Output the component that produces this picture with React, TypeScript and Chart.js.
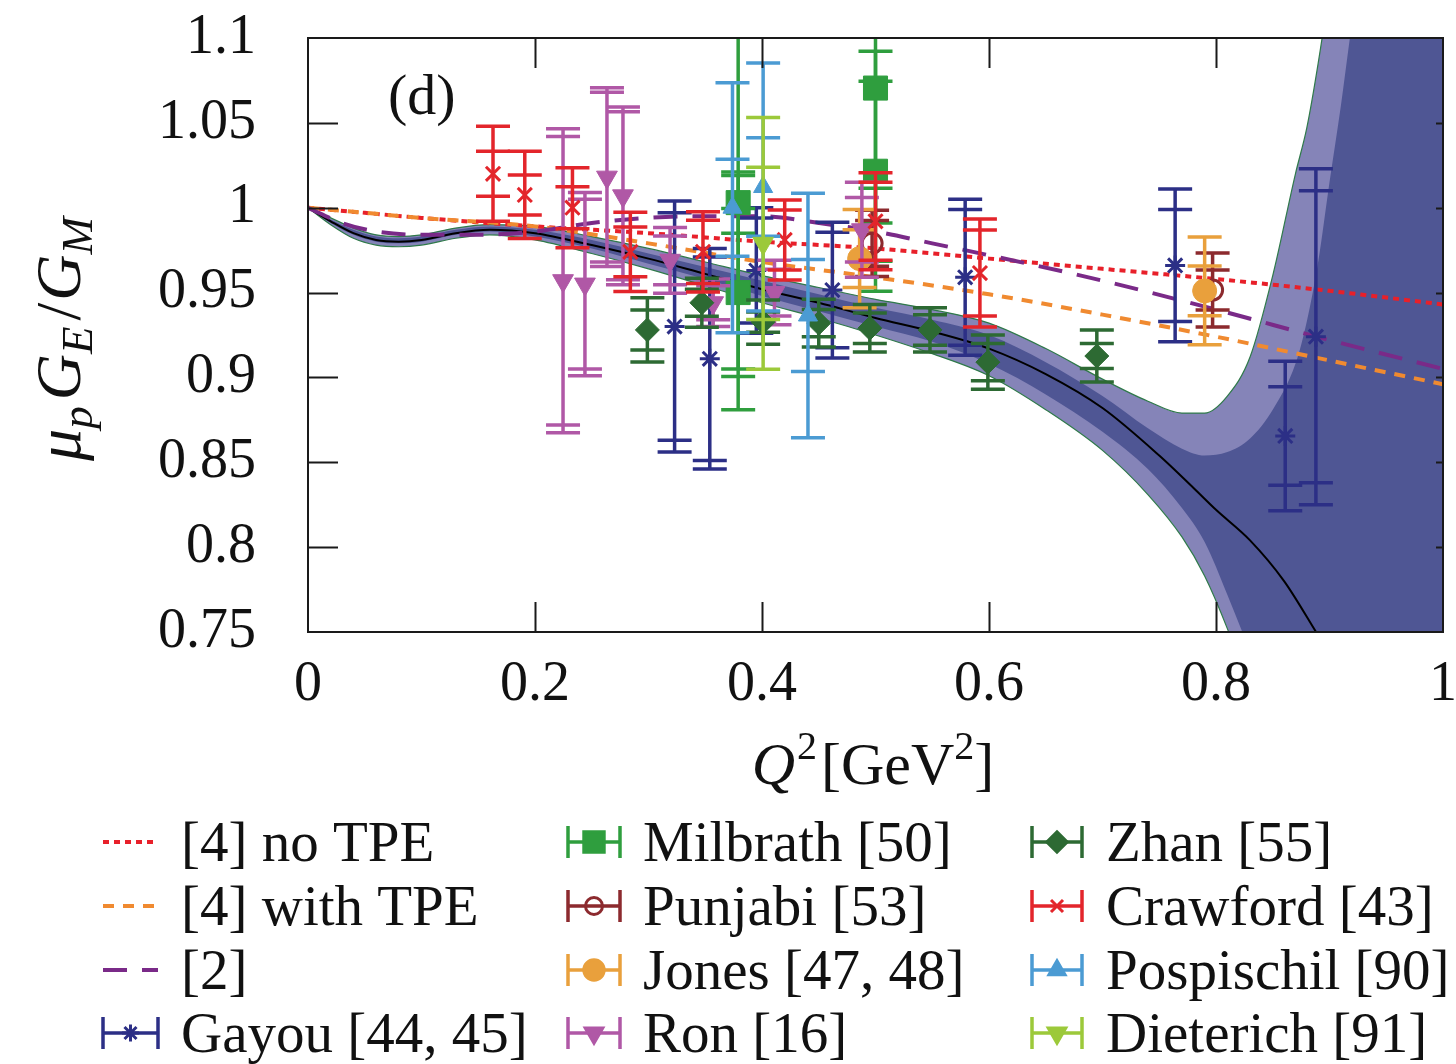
import { useEffect, useRef } from "react";
import { Chart, registerables } from "chart.js";

Chart.register(...registerables);

const SERIF = '"Liberation Serif", "Times New Roman", serif';

// ---- model curves -------------------------------------------------------
const tpeQ2 = [0, 0.05, 0.1, 0.2, 0.3, 0.4, 0.5, 0.6, 0.7, 0.8, 0.9, 1.0];
const noTpe = [1.0, 0.997, 0.994, 0.989, 0.985, 0.98, 0.976, 0.97, 0.964, 0.958, 0.951, 0.943];
const withTpe = [1.0, 0.997, 0.994, 0.989, 0.979, 0.968, 0.959, 0.949, 0.937, 0.924, 0.91, 0.896];

const ref2Q2 = [0, 0.03, 0.06, 0.1, 0.15, 0.2, 0.25, 0.3, 0.35, 0.4, 0.45, 0.5, 0.55, 0.6, 0.7, 0.8, 0.9, 1.0];
const ref2 = [1.0, 0.991, 0.986, 0.984, 0.984, 0.986, 0.991, 0.994, 0.995, 0.995, 0.991, 0.986, 0.979, 0.972, 0.957, 0.94, 0.922, 0.905];

const fitQ2 = [0, 0.02, 0.04, 0.06, 0.08, 0.1, 0.13, 0.16, 0.2, 0.25, 0.3, 0.35, 0.4, 0.45, 0.5, 0.55, 0.6, 0.65, 0.7, 0.75, 0.78, 0.8, 0.83, 0.86, 0.89];
const fitCentral = [1.0, 0.992, 0.985, 0.981, 0.98, 0.981, 0.985, 0.987, 0.985, 0.978, 0.97, 0.961, 0.952, 0.944, 0.935, 0.927, 0.917, 0.902, 0.882, 0.854, 0.835, 0.822, 0.804, 0.78, 0.748];

// uncertainty bands of the fit
const bandQ2 = [0, 0.02, 0.04, 0.06, 0.08, 0.1, 0.13, 0.16, 0.2, 0.25, 0.3, 0.35, 0.4, 0.45, 0.5, 0.55, 0.6, 0.65, 0.7, 0.74, 0.77, 0.79, 0.81, 0.83, 0.85, 0.87, 0.88, 0.89, 0.9, 0.91, 0.92, 0.94, 0.97, 1.0];
const outerHi = [1.0, 0.994, 0.988, 0.984, 0.983, 0.984, 0.988, 0.99, 0.989, 0.983, 0.976, 0.968, 0.96, 0.953, 0.946, 0.94, 0.932, 0.917, 0.899, 0.886, 0.879, 0.879, 0.889, 0.912, 0.96, 1.02, 1.047, 1.085, 1.13, 1.18, 1.23, 1.33, 1.49, 1.65];
const outerLo = [1.0, 0.99, 0.982, 0.978, 0.977, 0.978, 0.982, 0.984, 0.981, 0.973, 0.964, 0.954, 0.944, 0.935, 0.925, 0.914, 0.901, 0.881, 0.857, 0.831, 0.806, 0.783, 0.752, 0.715, 0.675, 0.635, 0.615, 0.595, 0.575, 0.555, 0.535, 0.495, 0.435, 0.375];
const innerHi = [1.0, 0.993, 0.987, 0.983, 0.982, 0.983, 0.987, 0.989, 0.987, 0.981, 0.973, 0.965, 0.957, 0.949, 0.941, 0.934, 0.925, 0.909, 0.889, 0.87, 0.858, 0.854, 0.856, 0.864, 0.881, 0.908, 0.933, 0.968, 1.015, 1.06, 1.11, 1.2, 1.36, 1.5];
const innerLo = [1.0, 0.991, 0.984, 0.98, 0.979, 0.98, 0.984, 0.986, 0.983, 0.976, 0.967, 0.958, 0.948, 0.939, 0.93, 0.921, 0.908, 0.89, 0.868, 0.846, 0.823, 0.803, 0.772, 0.738, 0.7, 0.66, 0.64, 0.62, 0.6, 0.58, 0.56, 0.52, 0.46, 0.39];

// ---- measurements (Q2, ratio, statistical and total errors) ----------------
const gayouQ2 = [0.323, 0.354, 0.395, 0.462, 0.579, 0.764, 0.861, 0.888];
const gayouR = [0.93, 0.911, 0.963, 0.9515, 0.959, 0.966, 0.8655, 0.924];
const gayouStat = [0.067, 0.06, 0.031, 0.034, 0.04, 0.033, 0.029, 0.086];
const gayouTot = [0.074, 0.065, 0.037, 0.04, 0.046, 0.045, 0.044, 0.099];

const milbrathQ2 = [0.379, 0.379, 0.5, 0.5];
const milbrathR = [1.003, 0.95, 1.0705, 1.0215];
const milbrathStat = [0.018, 0.0495, 0.059, 0.053];
const milbrathTot = [0.098, 0.069, 0.0795, 0.0707];

const punjabiQ2 = [0.497, 0.797];
const punjabiR = [0.979, 0.9515];
const punjabiStat = [0.0135, 0.0118];
const punjabiTot = [0.0195, 0.0218];

const jonesQ2 = [0.486, 0.79];
const jonesR = [0.97, 0.951];
const jonesStat = [0.017, 0.0147];
const jonesTot = [0.029, 0.0318];

const ronQ2 = [0.2247, 0.244, 0.2634, 0.2775, 0.319, 0.357, 0.411, 0.488];
const ronR = [0.957, 0.955, 1.018, 1.007, 0.969, 0.944, 0.95, 0.987];
const ronStat = [0.085, 0.05, 0.05, 0.0495, 0.0144, 0.01, 0.0138, 0.019];
const ronTot = [0.0896, 0.054, 0.0527, 0.0524, 0.0194, 0.014, 0.019, 0.028];

const zhanQ2 = [0.299, 0.347, 0.401, 0.45, 0.495, 0.548, 0.599, 0.695];
const zhanR = [0.928, 0.944, 0.9326, 0.932, 0.929, 0.928, 0.909, 0.9126];
const zhanStat = [0.0118, 0.008, 0.006, 0.008, 0.009, 0.009, 0.011, 0.0074];
const zhanTot = [0.0189, 0.0144, 0.013, 0.014, 0.014, 0.013, 0.016, 0.0153];

const crawfordQ2 = [0.163, 0.191, 0.233, 0.284, 0.348, 0.42, 0.5, 0.592];
const crawfordR = [1.02, 1.0075, 1.0, 0.974, 0.974, 0.981, 0.992, 0.9615];
const crawfordStat = [0.0133, 0.0118, 0.0124, 0.0147, 0.0186, 0.0177, 0.023, 0.0253];
const crawfordTot = [0.028, 0.0257, 0.0236, 0.0233, 0.0236, 0.0236, 0.0286, 0.0318];

const pospischilQ2 = [0.374, 0.401, 0.4405];
const pospischilR = [1.0, 1.0122, 0.9365];
const pospischilStat = [0.0286, 0.029, 0.033];
const pospischilTot = [0.0737, 0.073, 0.072];

const dieterichQ2 = [0.401];
const dieterichR = [0.979];
const dieterichStat = [0.0448];
const dieterichTot = [0.0742];

// ---- axis ticks -----------------------------------------------------------
const xTickValues = [0, 0.2, 0.4, 0.6, 0.8, 1];
const yTickValues = [0.75, 0.8, 0.85, 0.9, 0.95, 1, 1.05, 1.1];

const fmtTick = (v: number) => String(Number(Number(v).toFixed(2)));
const pts = (xs: number[], ys: number[]) => xs.map((x, i) => ({ x, y: ys[i] }));

const curveDefs = [
  { label: "[4] no TPE", q2: tpeQ2, r: noTpe, color: "#e8202a", dash: [6, 5], width: 4 },
  { label: "[4] with TPE", q2: tpeQ2, r: withTpe, color: "#f08a30", dash: [11, 9], width: 4 },
  { label: "[2]", q2: ref2Q2, r: ref2, color: "#7a2a88", dash: [24, 15], width: 4 },
];

const seriesDefs = [
  { label: "Gayou [44, 45]", q2: gayouQ2, r: gayouR, stat: gayouStat, tot: gayouTot, color: "#2c2f86", style: "star", radius: 10, rot: 0, filled: true },
  { label: "Milbrath [50]", q2: milbrathQ2, r: milbrathR, stat: milbrathStat, tot: milbrathTot, color: "#2f9e3e", style: "rect", radius: 17, rot: 0, filled: true },
  { label: "Punjabi [53]", q2: punjabiQ2, r: punjabiR, stat: punjabiStat, tot: punjabiTot, color: "#8c2a2e", style: "circle", radius: 10, rot: 0, filled: false },
  { label: "Jones [47, 48]", q2: jonesQ2, r: jonesR, stat: jonesStat, tot: jonesTot, color: "#e9a03c", style: "circle", radius: 12, rot: 0, filled: true },
  { label: "Ron [16]", q2: ronQ2, r: ronR, stat: ronStat, tot: ronTot, color: "#b058a6", style: "triangle", radius: 12, rot: 180, filled: true },
  { label: "Zhan [55]", q2: zhanQ2, r: zhanR, stat: zhanStat, tot: zhanTot, color: "#2d6a33", style: "rectRot", radius: 12, rot: 0, filled: true },
  { label: "Crawford [43]", q2: crawfordQ2, r: crawfordR, stat: crawfordStat, tot: crawfordTot, color: "#e3252b", style: "crossRot", radius: 10, rot: 0, filled: true },
  { label: "Pospischil [90]", q2: pospischilQ2, r: pospischilR, stat: pospischilStat, tot: pospischilTot, color: "#4b9bd3", style: "triangle", radius: 11, rot: 0, filled: true },
  { label: "Dieterich [91]", q2: dieterichQ2, r: dieterichR, stat: dieterichStat, tot: dieterichTot, color: "#9cc93a", style: "triangle", radius: 12, rot: 180, filled: true },
];

const LIGHT_BAND = "#8584b8";
const DARK_BAND = "#4f5694";
const BAND_EDGE = "#2f7a4a";

function drawMarker(ctx: CanvasRenderingContext2D, style: string, x: number, y: number, r: number, rot: number, color: string, filled: boolean) {
  ctx.save();
  ctx.translate(x, y);
  ctx.rotate((rot * Math.PI) / 180);
  ctx.strokeStyle = color;
  ctx.fillStyle = color;
  ctx.lineWidth = 3;
  ctx.beginPath();
  let closed = true;
  if (style === "circle") {
    ctx.arc(0, 0, r, 0, Math.PI * 2);
  } else if (style === "rect") {
    const s = r * Math.SQRT1_2;
    ctx.rect(-s, -s, 2 * s, 2 * s);
  } else if (style === "rectRot") {
    ctx.moveTo(0, -r); ctx.lineTo(r, 0); ctx.lineTo(0, r); ctx.lineTo(-r, 0); ctx.closePath();
  } else if (style === "triangle") {
    for (let k = 0; k < 3; k++) {
      const a = (k * 2 * Math.PI) / 3;
      const px = Math.sin(a) * r, py = -Math.cos(a) * r;
      if (k === 0) ctx.moveTo(px, py); else ctx.lineTo(px, py);
    }
    ctx.closePath();
  } else {
    closed = false;
    const d = r * Math.SQRT1_2;
    ctx.moveTo(-d, -d); ctx.lineTo(d, d); ctx.moveTo(d, -d); ctx.lineTo(-d, d);
    if (style === "star") { ctx.moveTo(0, -r); ctx.lineTo(0, r); ctx.moveTo(-r, 0); ctx.lineTo(r, 0); }
  }
  if (closed && filled) ctx.fill();
  ctx.stroke();
  ctx.restore();
}

type Run = { t: string; size: number; italic?: boolean; dy?: number; gap?: number };

function drawRuns(ctx: CanvasRenderingContext2D, runs: Run[], cx: number, baseline: number) {
  const fontOf = (r: Run) => `${r.italic ? "italic " : ""}${r.size}px ${SERIF}`;
  let total = 0;
  const widths = runs.map((r) => {
    ctx.font = fontOf(r);
    const w = ctx.measureText(r.t).width + (r.gap || 0);
    total += w;
    return w;
  });
  let x = cx - total / 2;
  ctx.textAlign = "left";
  ctx.textBaseline = "alphabetic";
  runs.forEach((r, i) => {
    ctx.font = fontOf(r);
    ctx.fillText(r.t, x, baseline + (r.dy || 0));
    x += widths[i];
  });
}

const errorBarPlugin = {
  id: "errorBars",
  beforeDatasetDraw(chart: any, args: any) {
    const ds = chart.data.datasets[args.index];
    if (!ds.errStat) return;
    const { ctx, chartArea: a, scales } = chart;
    const xs = scales.x, ys = scales.y;
    const cap = 17;
    ctx.save();
    ctx.beginPath();
    ctx.rect(a.left, a.top, a.right - a.left, a.bottom - a.top);
    ctx.clip();
    ctx.strokeStyle = ds.borderColor;
    ctx.lineWidth = 3.5;
    ds.data.forEach((p: any, i: number) => {
      const px = xs.getPixelForValue(p.x);
      const s = ds.errStat[i], t = ds.errTot[i];
      const yt = ys.getPixelForValue(p.y + t), yb = ys.getPixelForValue(p.y - t);
      const st = ys.getPixelForValue(p.y + s), sb = ys.getPixelForValue(p.y - s);
      ctx.beginPath();
      ctx.moveTo(px, yt); ctx.lineTo(px, yb);
      [yt, yb, st, sb].forEach((yy) => { ctx.moveTo(px - cap, yy); ctx.lineTo(px + cap, yy); });
      ctx.stroke();
    });
    ctx.restore();
  },
};

const framePlugin = {
  id: "frame",
  afterDatasetsDraw(chart: any) {
    const { ctx, chartArea: a, scales } = chart;
    const tl = 30;
    const tlRight = 7;
    ctx.save();
    ctx.strokeStyle = "#1a1a1a";
    ctx.lineWidth = 2;
    ctx.beginPath();
    xTickValues.slice(1, -1).forEach((v) => {
      const px = Math.round(scales.x.getPixelForValue(v)) + 0.5;
      ctx.moveTo(px, a.bottom); ctx.lineTo(px, a.bottom - tl);
      ctx.moveTo(px, a.top); ctx.lineTo(px, a.top + tl);
    });
    yTickValues.slice(1, -1).forEach((v) => {
      const py = Math.round(scales.y.getPixelForValue(v)) + 0.5;
      ctx.moveTo(a.left, py); ctx.lineTo(a.left + tl, py);
      ctx.moveTo(a.right, py); ctx.lineTo(a.right - tlRight, py);
    });
    ctx.stroke();
    ctx.strokeRect(a.left, a.top, a.right - a.left, a.bottom - a.top);
    ctx.restore();
  },
  afterDraw(chart: any) {
    const { ctx, chartArea: a, scales } = chart;
    ctx.save();
    ctx.fillStyle = "#111";

    // x tick labels, placed by the x scale
    ctx.font = `56px ${SERIF}`;
    ctx.textAlign = "center";
    ctx.textBaseline = "middle";
    xTickValues.forEach((v) => {
      ctx.fillText(fmtTick(v), scales.x.getPixelForValue(v), a.bottom + 53);
    });

    // panel tag
    ctx.font = `58px ${SERIF}`;
    ctx.textAlign = "left";
    ctx.textBaseline = "alphabetic";
    ctx.fillText("(d)", a.left + 80, a.top + 76);

    // x title
    drawRuns(ctx, [
      { t: "Q", size: 60, italic: true, gap: 2 },
      { t: "2", size: 40, dy: -25, gap: 4 },
      { t: "[GeV", size: 60 },
      { t: "2", size: 40, dy: -25 },
      { t: "]", size: 60 },
    ], 873, a.bottom + 152);

    // y title (rotated)
    ctx.save();
    ctx.translate(80, (a.top + a.bottom) / 2 + 4);
    ctx.rotate(-Math.PI / 2);
    drawRuns(ctx, [
      { t: "μ", size: 64, italic: true },
      { t: "p", size: 45, italic: true, dy: 12, gap: 6 },
      { t: "G", size: 64, italic: true },
      { t: "E", size: 45, italic: true, dy: 12, gap: 6 },
      { t: "/", size: 64, gap: 2 },
      { t: "G", size: 64, italic: true },
      { t: "M", size: 45, italic: true, dy: 12 },
    ], 0, 0);
    ctx.restore();

    // legend: 3 columns x 4 rows
    const colSample = [[103, 158], [568, 620], [1032, 1082]];
    const colText = [181, 643, 1106];
    const rowY = [842, 906, 970, 1033];
    const entries: any[] = [
      ...curveDefs.map((c) => ({ kind: "line", ...c })),
      ...seriesDefs.map((s) => ({ kind: "point", ...s })),
    ];
    entries.forEach((e, k) => {
      const col = Math.floor(k / 4), row = k % 4;
      const [x0, x1] = colSample[col];
      const y = rowY[row];
      if (e.kind === "line") {
        ctx.save();
        ctx.strokeStyle = e.color;
        ctx.lineWidth = 4;
        ctx.setLineDash(e.dash);
        ctx.beginPath();
        ctx.moveTo(x0, y); ctx.lineTo(x1, y);
        ctx.stroke();
        ctx.restore();
      } else {
        ctx.save();
        ctx.strokeStyle = e.color;
        ctx.lineWidth = 3.5;
        ctx.beginPath();
        ctx.moveTo(x0, y); ctx.lineTo(x1, y);
        ctx.moveTo(x0, y - 16); ctx.lineTo(x0, y + 16);
        ctx.moveTo(x1, y - 16); ctx.lineTo(x1, y + 16);
        ctx.stroke();
        ctx.restore();
        drawMarker(ctx, e.style, (x0 + x1) / 2, y, e.radius * 0.85, e.rot, e.color, e.filled);
      }
      ctx.fillStyle = "#111";
      ctx.font = `57px ${SERIF}`;
      ctx.textAlign = "left";
      ctx.textBaseline = "alphabetic";
      ctx.fillText(e.label, colText[col], y + 19);
    });
    ctx.restore();
  },
};

export default function App() {
  const canvasRef = useRef<HTMLCanvasElement | null>(null);

  useEffect(() => {
    const canvas = canvasRef.current;
    if (!canvas) return;

    const bandLine = (data: number[], extra: any) => ({
      data: pts(bandQ2, data),
      pointRadius: 0,
      borderWidth: 0,
      borderColor: "rgba(0,0,0,0)",
      cubicInterpolationMode: "monotone",
      clip: 0,
      ...extra,
    });

    const datasets: any[] = [
      // 0,1: outer band
      bandLine(outerLo, { order: 60, fill: false, borderWidth: 1.2, borderColor: BAND_EDGE }),
      bandLine(outerHi, { order: 60, fill: 0, backgroundColor: LIGHT_BAND, borderWidth: 1.2, borderColor: BAND_EDGE }),
      // 2,3: inner band
      bandLine(innerLo, { order: 50, fill: false }),
      bandLine(innerHi, { order: 50, fill: 2, backgroundColor: DARK_BAND }),
      // 4: central fit
      {
        data: pts(fitQ2, fitCentral),
        borderColor: "#000",
        borderWidth: 2,
        pointRadius: 0,
        fill: false,
        cubicInterpolationMode: "monotone",
        clip: 0,
        order: 40,
      },
      ...curveDefs.map((c, i) => ({
        label: c.label,
        data: pts(c.q2, c.r),
        borderColor: c.color,
        borderWidth: c.width,
        borderDash: c.dash,
        pointRadius: 0,
        fill: false,
        cubicInterpolationMode: "monotone",
        clip: 0,
        order: 35 - i,
      })),
      ...seriesDefs.map((s, i) => ({
        label: s.label,
        data: pts(s.q2, s.r),
        showLine: false,
        borderColor: s.color,
        backgroundColor: s.filled ? s.color : "rgba(0,0,0,0)",
        pointStyle: s.style,
        pointRadius: s.radius,
        pointRotation: s.rot,
        pointBorderWidth: s.filled && s.style !== "star" && s.style !== "crossRot" ? 1 : 3,
        pointHoverRadius: s.radius,
        errStat: s.stat,
        errTot: s.tot,
        order: 20 - i,
      })),
    ];

    const chart = new Chart(canvas, {
      type: "line",
      data: { datasets },
      options: {
        animation: false,
        responsive: false,
        devicePixelRatio: 1,
        events: [],
        layout: { autoPadding: false, padding: { left: 0, right: 13, top: 38, bottom: 332 } },
        plugins: { legend: { display: false }, tooltip: { enabled: false } },
        scales: {
          x: {
            type: "linear",
            min: 0,
            max: 1,
            grid: { display: false, drawTicks: false },
            border: { display: false },
            afterBuildTicks: (scale: any) => {
              scale.ticks = xTickValues.map((v) => ({ value: v }));
            },
            ticks: { display: false },
            afterFit: (scale: any) => {
              scale.height = 100;
              scale.paddingLeft = 0;
              scale.paddingRight = 0;
            },
          },
          y: {
            type: "linear",
            min: 0.75,
            max: 1.1,
            grid: { display: false, drawTicks: false },
            border: { display: false },
            afterBuildTicks: (scale: any) => {
              scale.ticks = yTickValues.map((v) => ({ value: v }));
            },
            ticks: {
              padding: 52,
              color: "#111",
              font: { family: SERIF, size: 56 },
              autoSkip: false,
              callback: (v: any) => fmtTick(v),
            },
            afterFit: (scale: any) => {
              scale.width = 308;
              scale.paddingTop = 0;
              scale.paddingBottom = 0;
            },
          },
        },
      } as any,
      plugins: [errorBarPlugin, framePlugin],
    });

    return () => chart.destroy();
  }, []);

  return (
    <div style={{ position: "absolute", left: 0, top: 0, width: 1456, height: 1064, background: "#fff" }}>
      <canvas ref={canvasRef} width={1456} height={1064} style={{ display: "block" }} />
    </div>
  );
}
